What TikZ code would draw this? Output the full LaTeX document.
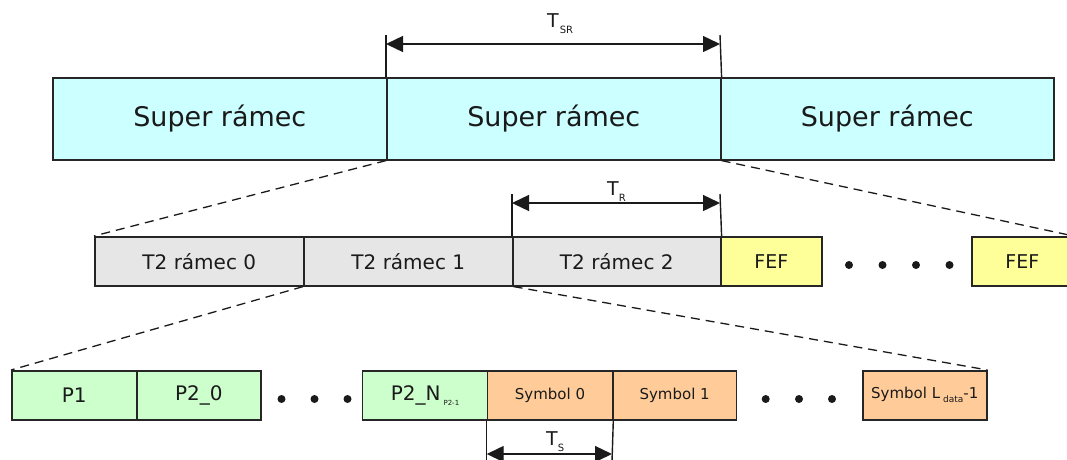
\documentclass[tikz,border=0pt]{standalone}
\usepackage{fontspec}
\setmainfont{DejaVu Sans}
\usetikzlibrary{arrows.meta}

\definecolor{ink}{HTML}{1A1A1A}
\definecolor{edge}{HTML}{262626}
\definecolor{superfill}{HTML}{CCFFFF}
\definecolor{framefill}{HTML}{E6E6E6}
\definecolor{feffill}{HTML}{FFFF99}
\definecolor{pfill}{HTML}{CCFFCC}
\definecolor{symfill}{HTML}{FFCC99}

\newcommand{\fs}[1]{\fontsize{#1}{#1}\selectfont}

\begin{document}
\begin{tikzpicture}[x=1pt,y=-1pt,
  cell/.style={draw=edge, line width=1.6pt, inner sep=0pt, anchor=north west,
               text=ink, align=center},
  superbox/.style={cell, fill=superfill, minimum width=334pt, minimum height=82pt, font=\fs{27}},
  framebox/.style={cell, fill=framefill, minimum width=209pt, minimum height=49pt, font=\fs{20}},
  fefbox/.style={cell, fill=feffill, minimum width=101pt, minimum height=49pt, font=\fs{19}},
  pbox/.style={cell, fill=pfill, minimum width=125pt, minimum height=49pt, font=\fs{20}},
  symbox/.style={cell, fill=symfill, minimum width=125pt, minimum height=49pt, font=\fs{15}},
  zoomline/.style={draw=ink, line width=1.3pt, dash pattern=on 9pt off 6pt},
  extline/.style={draw=ink, line width=1.4pt},
  dimline/.style={draw=ink, line width=1.4pt,
    {Triangle[length=17pt,width=16pt]}-{Triangle[length=17pt,width=16pt]}},
  dimlabel/.style={anchor=base west, inner sep=0pt, text=ink, font=\fs{19}},
  dot/.style={circle, fill=ink, inner sep=0pt, minimum size=8pt}]

\useasboundingbox (0,0) rectangle (1067,459);
\clip (0,0) rectangle (1067,459);

% super frames
\node[superbox] (sr0) at (52,77)  {Super rámec};
\node[superbox] (sr1) at (386,77) {Super rámec};
\node[superbox, minimum width=333pt] (sr2) at (720,77) {Super rámec};

% T2 frames and FEF parts
\node[framebox] (t2a) at (94,236)  {T2 rámec 0};
\node[framebox] (t2b) at (303,236) {T2 rámec 1};
\node[framebox, minimum width=208pt] (t2c) at (512,236) {T2 rámec 2};
\node[fefbox] (fef1) at (720,236) {FEF};
\node[fefbox] (fef2) at (971,236) {FEF};
\node[dot] (m1) at (849,265) {};
\node[dot] (m2) at (882.5,265) {};
\node[dot] (m3) at (916,265) {};
\node[dot] (m4) at (949.5,265) {};

% symbols of one T2 frame
\node[pbox] (p1)  at (11,370)  {P1};
\node[pbox, minimum width=124pt] (p20) at (136,370) {P2\_0};
\node[dot] (b1) at (281.5,399) {};
\node[dot] (b2) at (314.5,399) {};
\node[dot] (b3) at (347.5,399) {};
\node[pbox] (p2n) at (361.7,370) {P2\_N\hspace{3pt}\raisebox{-5pt}{\fs{7}P2-1}};
\node[symbox] (s0) at (486.7,370) {Symbol 0};
\node[symbox, minimum width=123.7pt] (s1) at (612,370) {Symbol 1};
\node[dot] (c1) at (765.7,399) {};
\node[dot] (c2) at (799,399) {};
\node[dot] (c3) at (832,399) {};
\node[symbox, minimum width=124pt] (sl) at (862,370)
  {Symbol L\hspace{3pt}\raisebox{-4pt}{\fs{9}data}-1};

% zoom connectors
\draw[zoomline] (sr1.south west) -- (t2a.north west);
\draw[zoomline] (sr1.south east) -- (fef2.north east);
\draw[zoomline] (t2b.south west) -- (p1.north west);
\draw[zoomline] (t2b.south east) -- (sl.north east);

% T_SR dimension
\coordinate (srL) at (386,35);
\coordinate (srR) at (720,35);
\coordinate (srA) at (386,44);
\coordinate (srB) at (720,44);
\draw[extline] (sr1.north west) -- (srL);
\draw[extline] (sr1.north east) -- (srR);
\draw[dimline] (srA) -- (srB);
\node[dimlabel] (tsr) at (547,27) {T\hspace{1pt}\raisebox{-6pt}{\fs{10}SR}};

% T_R dimension
\coordinate (rL) at (512,194);
\coordinate (rR) at (720,194);
\coordinate (rA) at (512,203);
\coordinate (rB) at (720,203);
\draw[extline] (t2c.north west) -- (rL);
\draw[extline] (t2c.north east) -- (rR);
\draw[dimline] (rA) -- (rB);
\node[dimlabel] (tr) at (607,195) {T\raisebox{-6pt}{\fs{10}R}};

% T_S dimension
\coordinate (sL) at (486.7,462);
\coordinate (sR) at (612,462);
\coordinate (sA) at (486.7,454);
\coordinate (sB) at (612,454);
\draw[extline] (s0.south west) -- (sL);
\draw[extline] (s0.south east) -- (sR);
\draw[dimline] (sA) -- (sB);
\node[dimlabel] (ts) at (546,445) {T\raisebox{-6pt}{\fs{10}S}};
\end{tikzpicture}
\end{document}
